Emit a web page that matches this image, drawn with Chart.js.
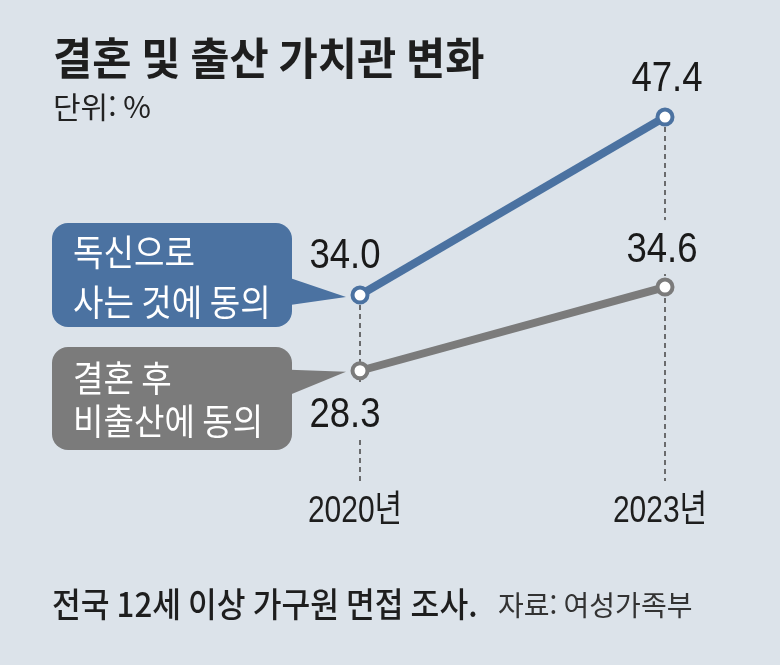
<!DOCTYPE html>
<html lang="ko">
<head>
<meta charset="utf-8">
<script src="https://cdn.jsdelivr.net/npm/chart.js@4"></script>
<style>
  html, body { margin: 0; padding: 0; background: #dce3ea; }
  canvas { display: block; }
</style>
</head>
<body>
<canvas id="chart" width="780" height="665"></canvas>
<script>
// data
const years = ["2020년", "2023년"];
const singleLife = [34.0, 47.4];   // 독신으로 사는 것에 동의
const childFree = [28.3, 34.6];    // 결혼 후 비출산에 동의
const seriesNames = [["독신으로", "사는 것에 동의"], ["결혼 후", "비출산에 동의"]];
const valueLabels = [["34.0", "47.4"], ["28.3", "34.6"]];

const BG = "#dce3ea";
const BLUE = "#4b72a1";
const GRAY = "#7b7b7b";
const KR = '"Noto Sans CJK KR", "Noto Sans", sans-serif';
const NUM = '"Liberation Sans", "Noto Sans CJK KR", sans-serif';

// draw text with a horizontal squeeze, like the condensed type in the original
function txt(ctx, s, x, y, font, color, align, sx, baseline) {
  ctx.save();
  ctx.font = font;
  ctx.fillStyle = color;
  ctx.textAlign = align || "left";
  ctx.textBaseline = baseline || "middle";
  ctx.translate(x, y);
  ctx.scale(sx || 1, 1);
  ctx.fillText(s, 0, 0);
  ctx.restore();
}

function roundBox(ctx, x, y, w, h, r, tri, color) {
  ctx.save();
  ctx.fillStyle = color;
  ctx.beginPath();
  ctx.roundRect(x, y, w, h, r);
  ctx.fill();
  ctx.beginPath();
  ctx.moveTo(tri[0][0], tri[0][1]);
  ctx.lineTo(tri[1][0], tri[1][1]);
  ctx.lineTo(tri[2][0], tri[2][1]);
  ctx.closePath();
  ctx.fill();
  ctx.restore();
}

const decor = {
  id: "decor",
  beforeDatasetsDraw(chart) {
    const { ctx, scales: { x, y } } = chart;
    const bottom = y.getPixelForValue(20);
    ctx.save();
    ctx.strokeStyle = "#444";
    ctx.lineWidth = 1.5;
    ctx.setLineDash([5, 4]);
    years.forEach((_, i) => {
      const px = x.getPixelForValue(i);
      const top = y.getPixelForValue(singleLife[i]) + 10;
      ctx.beginPath();
      ctx.moveTo(px, top);
      ctx.lineTo(px, bottom);
      ctx.stroke();
    });
    ctx.restore();
  },
  afterDatasetsDraw(chart) {
    const { ctx, scales: { x, y } } = chart;

    // title and unit
    txt(ctx, "결혼 및 출산 가치관 변화", 53, 58, "bold 44px " + KR, "#1e1e1e", "left", 0.97);
    txt(ctx, "단위: %", 53, 107, "30px " + KR, "#222", "left", 1);

    // value labels
    const x0 = x.getPixelForValue(0), x1 = x.getPixelForValue(1);
    const num = "42px " + NUM;
    const sxn = 0.87;
    const cap = 15;
    // 2023 blue
    txt(ctx, valueLabels[0][1], x1 + 2, y.getPixelForValue(singleLife[1]) - 41 + cap, num, "#1a1a1a", "center", sxn, "alphabetic");
    // 2020 blue
    txt(ctx, valueLabels[0][0], x0 - 15, y.getPixelForValue(singleLife[0]) - 42 + cap, num, "#1a1a1a", "center", sxn, "alphabetic");
    // 2023 gray (covers the dashed line)
    let gy = y.getPixelForValue(childFree[1]) - 40;
    ctx.fillStyle = BG;
    ctx.fillRect(x1 - 30, gy - 27, 60, 54);
    txt(ctx, valueLabels[1][1], x1 - 3, gy + cap, num, "#1a1a1a", "center", sxn, "alphabetic");
    // 2020 gray
    gy = y.getPixelForValue(childFree[0]) + 41;
    ctx.fillStyle = BG;
    ctx.fillRect(x0 - 30, gy - 27, 60, 54);
    txt(ctx, valueLabels[1][0], x0 - 15, gy + cap, num, "#1a1a1a", "center", sxn, "alphabetic");

    // series call-out boxes
    const by = y.getPixelForValue(singleLife[0]);
    roundBox(ctx, 52, 223, 240, 104, 16,
      [[290, by - 17], [x0 - 14, by + 2], [290, by + 10]], BLUE);
    txt(ctx, seriesNames[0][0], 73, 252, "36px " + KR, "#fff", "left", 0.92);
    txt(ctx, seriesNames[0][1], 73, 302, "36px " + KR, "#fff", "left", 0.92);

    const cy = y.getPixelForValue(childFree[0]);
    roundBox(ctx, 52, 347, 240, 103, 16,
      [[290, cy - 1], [x0 - 14, cy + 1], [290, cy + 24]], GRAY);
    txt(ctx, seriesNames[1][0], 73, 378, "36px " + KR, "#fff", "left", 0.92);
    txt(ctx, seriesNames[1][1], 73, 421, "36px " + KR, "#fff", "left", 0.92);

    // year labels
    years.forEach((s, i) => {
      txt(ctx, s, x.getPixelForValue(i) - 5, 512, "37px " + NUM, "#1e1e1e", "center", 0.81);
    });

    // footer
    txt(ctx, "전국 12세 이상 가구원 면접 조사.", 52, 604, "500 34px " + KR, "#1e1e1e", "left", 0.92);
    txt(ctx, "자료: 여성가족부", 498, 605, "28px " + KR, "#333", "left", 1.0);
  }
};

new Chart(document.getElementById("chart"), {
  type: "line",
  data: {
    labels: years,
    datasets: [
      {
        label: "독신으로 사는 것에 동의",
        data: singleLife,
        borderColor: BLUE,
        borderWidth: 8,
        pointRadius: 7.5,
        pointBorderWidth: 4,
        pointBackgroundColor: "#fff",
        pointBorderColor: BLUE,
        clip: false,
      },
      {
        label: "결혼 후 비출산에 동의",
        data: childFree,
        borderColor: GRAY,
        borderWidth: 8,
        pointRadius: 7.5,
        pointBorderWidth: 4,
        pointBackgroundColor: "#fff",
        pointBorderColor: GRAY,
        clip: false,
      },
    ],
  },
  options: {
    responsive: false,
    animation: false,
    layout: { padding: { left: 360, right: 115, top: 82.5, bottom: 184 } },
    plugins: { legend: { display: false }, tooltip: { enabled: false } },
    scales: {
      x: { display: false, offset: false },
      y: { display: false, min: 20, max: 50 },
    },
  },
  plugins: [decor],
});
</script>
</body>
</html>
